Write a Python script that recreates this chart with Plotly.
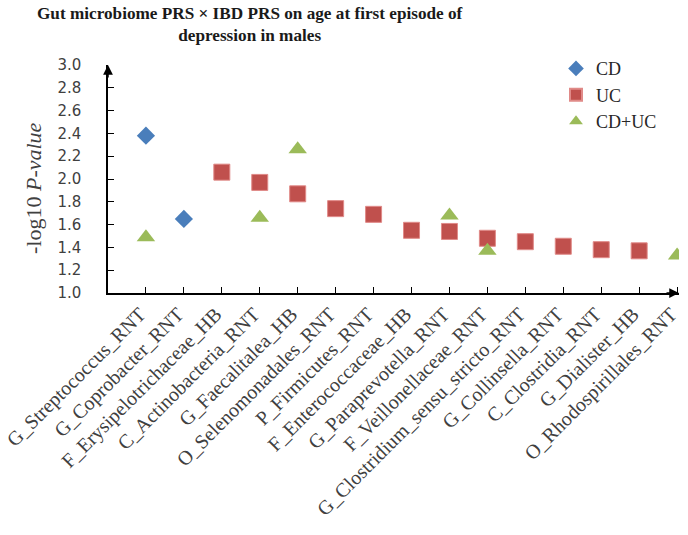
import plotly.graph_objects as go

categories = ["G_Streptococcus_RNT", "G_Coprobacter_RNT", "F_Erysipelotrichaceae_HB",
              "C_Actinobacteria_RNT", "G_Faecalitalea_HB", "O_Selenomonadales_RNT",
              "P_Firmicutes_RNT", "F_Enterococcaceae_HB", "G_Paraprevotella_RNT",
              "F_Veillonellaceae_RNT", "G_Clostridium_sensu_stricto_RNT", "G_Collinsella_RNT",
              "C_Clostridia_RNT", "G_Dialister_HB", "O_Rhodospirillales_RNT"]

cd = [2.38, 1.65, None, None, None, None, None, None, None, None, None, None, None, None, None]
uc = [None, None, 2.06, 1.97, 1.87, 1.74, 1.69, 1.55, 1.54, 1.48, 1.45, 1.41, 1.38, 1.37, None]
cduc = [1.49, None, None, 1.66, 2.26, None, None, None, 1.68, 1.37, None, None, None, None, 1.33]

y_ticks = [1.0, 1.2, 1.4, 1.6, 1.8, 2.0, 2.2, 2.4, 2.6, 2.8, 3.0]

title_text = "<b>Gut microbiome PRS × IBD PRS on age at first episode of<br>depression in males</b>"

PW = 571  # plot width in px
PH = 228  # plot height in px

fig = go.Figure()
fig.add_trace(go.Scatter(x=categories, y=cd, mode="markers", name="CD",
                         marker=dict(symbol="diamond", size=14, color="#4a7ebb")))
fig.add_trace(go.Scatter(x=categories, y=uc, mode="markers", name="UC",
                         marker=dict(symbol="square", size=16, color="#c0504d",
                                     line=dict(color="#e08a88", width=1))))
fig.add_trace(go.Scatter(x=categories, y=cduc, mode="markers", name="CD+UC",
                         marker=dict(symbol="triangle-up", size=16, color="#9bbb59")))

fig.update_layout(
    width=688, height=535,
    paper_bgcolor="white", plot_bgcolor="white",
    margin=dict(l=108, r=9, t=65, b=242, autoexpand=False),
    legend=dict(x=(556 - 108) / PW, y=1.065, xanchor="left", yanchor="top",
                font=dict(family="Liberation Serif", size=18, color="#262626"),
                itemwidth=30, itemsizing="constant", tracegroupgap=0,
                bgcolor="rgba(0,0,0,0)"),
    showlegend=True,
)

fig.add_annotation(text=title_text, xref="paper", yref="paper",
                   x=(250 - 108) / PW, y=1 + 40.5 / PH, xanchor="center", yanchor="middle",
                   showarrow=False,
                   font=dict(family="Liberation Serif", size=17.2, color="#1a1a1a"))

fig.add_annotation(text="-log10 <i>P-value</i>", xref="paper", yref="paper",
                   x=(33 - 108) / PW, y=(293 - 188) / PH, xanchor="center", yanchor="middle",
                   textangle=-90, showarrow=False,
                   font=dict(family="Liberation Serif", size=22, color="#404040"))

fig.update_xaxes(
    type="category", range=[-1, 14.05], showgrid=False, zeroline=False,
    showline=True, linecolor="black", linewidth=1.5,
    ticks="inside", ticklen=6, tickcolor="black", tickwidth=1.2,
    tickangle=-45, automargin=False, ticklabelshift=-6,
    tickfont=dict(family="Liberation Serif", size=20, color="#404040"),
)
fig.update_yaxes(
    range=[1.0, 3.0], tickvals=y_ticks, ticktext=[f"{v:.1f}" for v in y_ticks],
    showgrid=False, zeroline=False,
    showline=True, linecolor="black", linewidth=1.5,
    ticks="inside", ticklen=6, tickcolor="black", tickwidth=1.2,
    ticklabelstandoff=22, automargin=False,
    tickfont=dict(family="DejaVu Sans", size=15, color="#404040"),
)

fig.add_annotation(xref="paper", yref="paper", x=0, y=1.0, ax=0, ay=14, text="",
                   showarrow=True, arrowhead=2, arrowsize=1.3, arrowwidth=1.5, arrowcolor="black")
fig.add_annotation(xref="paper", yref="paper", x=1.0, y=0, ax=-14, ay=0, text="",
                   showarrow=True, arrowhead=2, arrowsize=1.3, arrowwidth=1.5, arrowcolor="black")

# remove the browser's default 8px body margin so the figure fills the window exactly
fig.write_html("out.html", config={"displayModeBar": False},
               post_script="document.body.style.margin='0';document.body.style.overflow='hidden';")
